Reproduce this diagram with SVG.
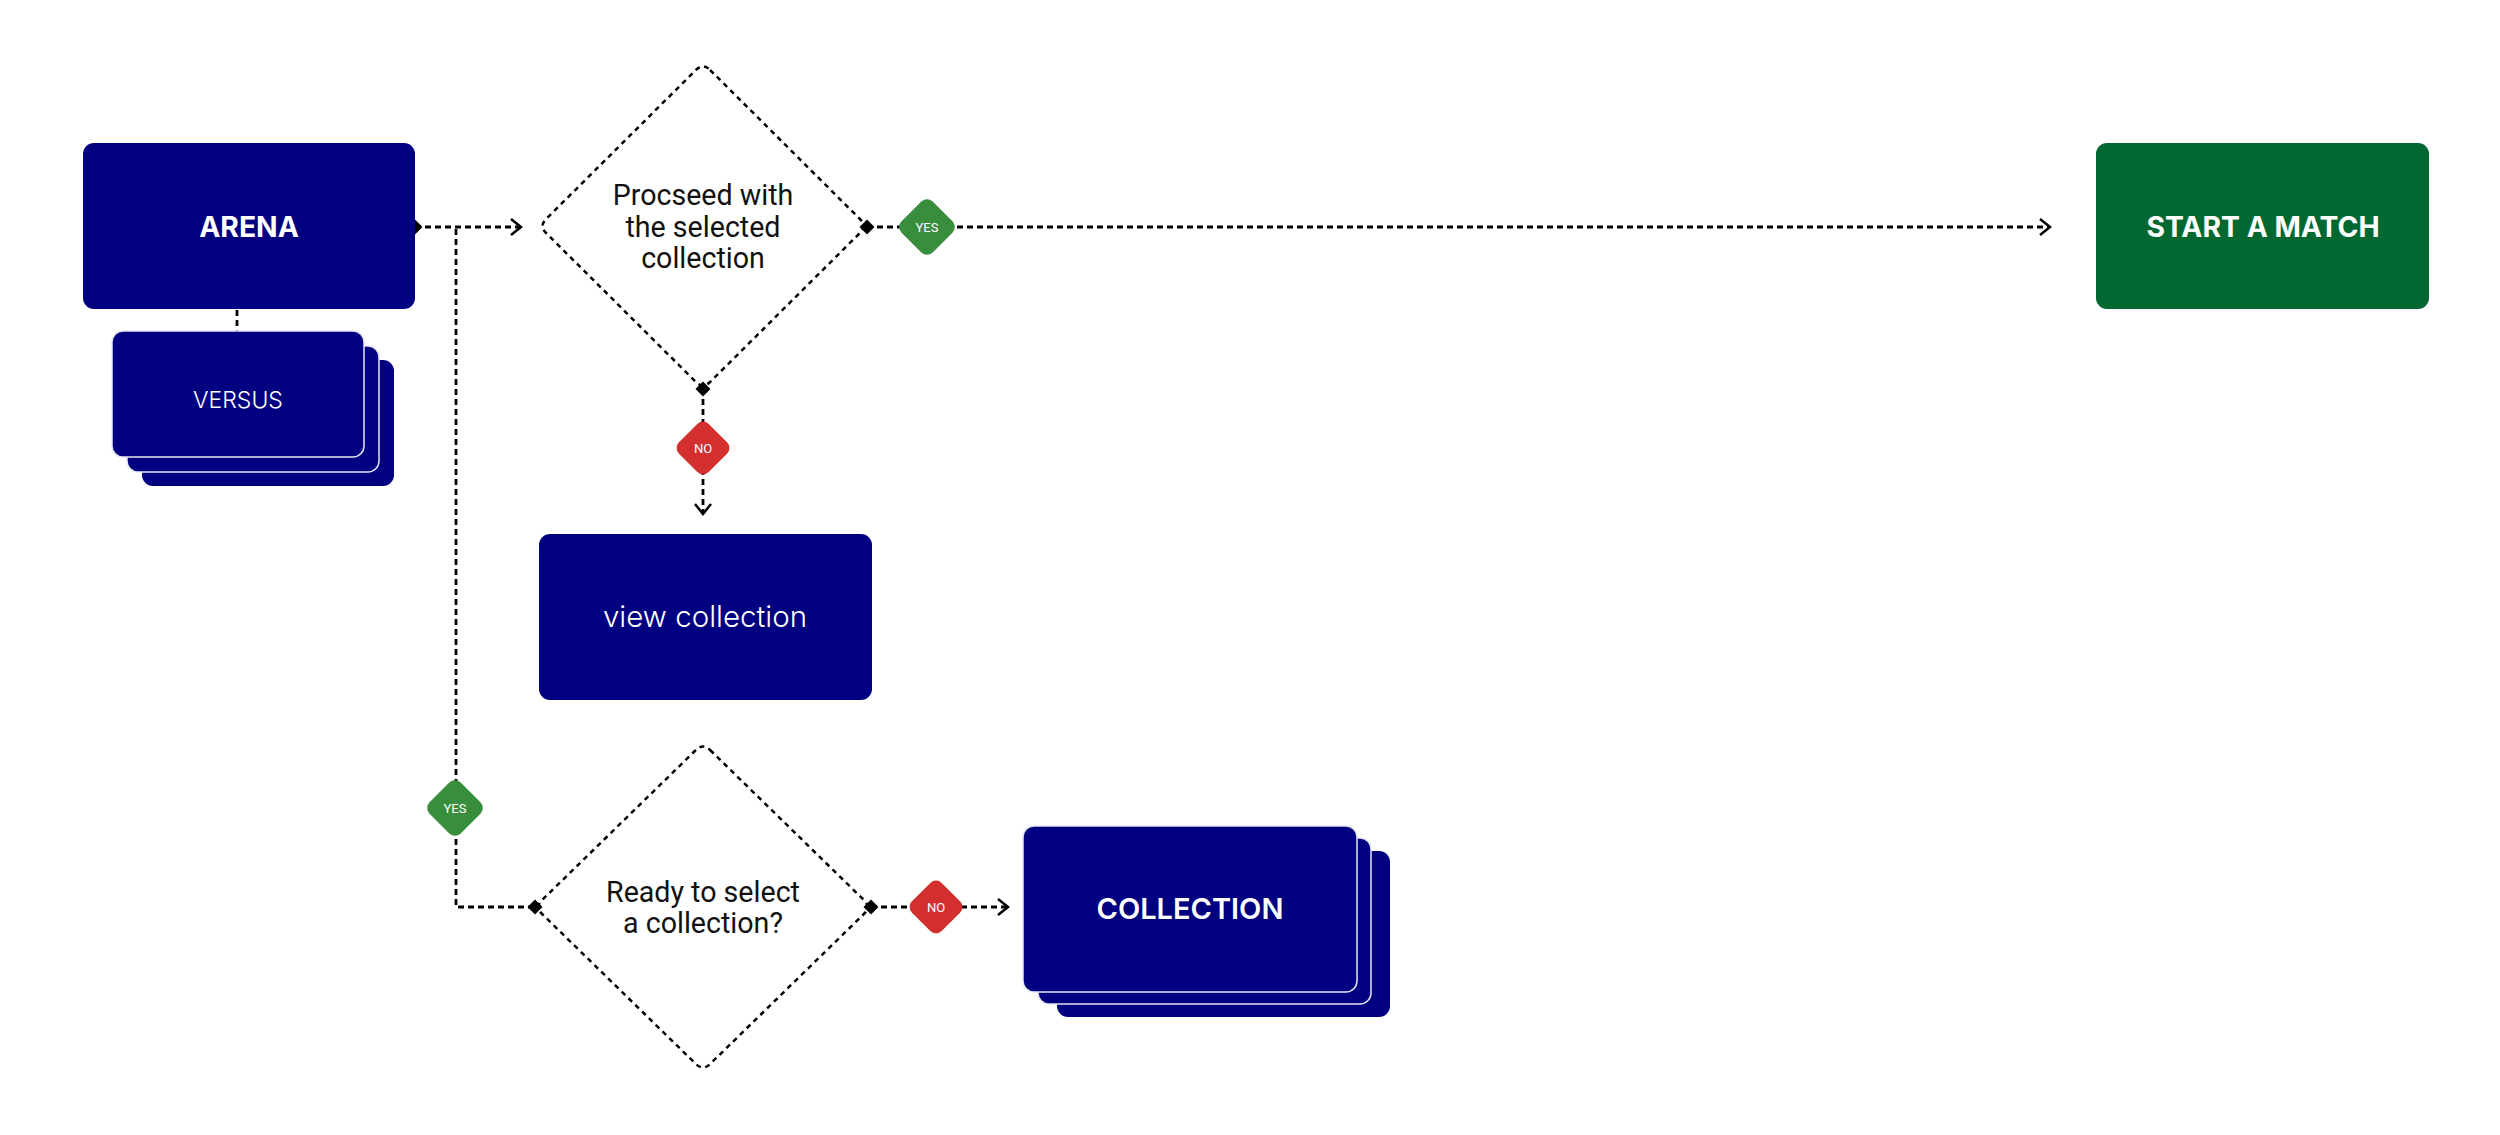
<svg xmlns="http://www.w3.org/2000/svg" width="2500" height="1135" viewBox="0 0 2500 1135">
<style>
.box{fill:#000080}
.stk{fill:#000080;stroke:#e6e6f0;stroke-width:1.5}
.go{fill:#006830}
.title{font-family:Inter,"Liberation Sans",sans-serif;font-weight:700;font-size:28.3px;fill:#fff;text-anchor:middle}
.light{font-family:Inter,"Liberation Sans",sans-serif;font-weight:300;fill:#fff;text-anchor:middle}
.dec{fill:none;stroke:#000;stroke-width:2.5;stroke-dasharray:5 4.5}
.dtext{font-family:Roboto,"Liberation Sans",sans-serif;font-size:28.6px;fill:#111;text-anchor:middle}
.con{fill:none;stroke:#000;stroke-width:2.8;stroke-dasharray:6 4}
.yes{fill:#388e3c}
.no{fill:#d32f2f}
.btext{font-family:Roboto,"Liberation Sans",sans-serif;font-size:13px;fill:#fff;text-anchor:middle}
</style>
<defs>
<marker id="dia" viewBox="-8 -8 16 16" markerWidth="16" markerHeight="16" refX="0" refY="0" markerUnits="userSpaceOnUse" orient="auto">
<path d="M-7.5 0 L0 -7.5 L7.5 0 L0 7.5 Z" fill="#000"/>
</marker>
<marker id="chev" viewBox="-14 -10 16 20" markerWidth="16" markerHeight="20" refX="0" refY="0" markerUnits="userSpaceOnUse" orient="auto">
<path d="M-10 -8 L0 0 L-10 8" fill="none" stroke="#000" stroke-width="2.5"/>
</marker>
</defs>

<g id="connectors">
<line class="con" x1="237" y1="310" x2="237" y2="331"/>
<line class="con" x1="415" y1="227" x2="521" y2="227" marker-start="url(#dia)" marker-end="url(#chev)"/>
<path class="con" d="M456 229 V907 H535" marker-end="url(#dia)"/>
<line class="con" x1="867" y1="227" x2="2050" y2="227" marker-start="url(#dia)" marker-end="url(#chev)"/>
<line class="con" x1="703" y1="389" x2="703" y2="514" marker-start="url(#dia)" marker-end="url(#chev)"/>
<line class="con" x1="871" y1="907" x2="1008" y2="907" marker-start="url(#dia)" marker-end="url(#chev)"/>
</g>

<g id="arena">
<rect class="box" x="83" y="143" width="332" height="166" rx="11"/>
<text class="title" x="249" y="237">ARENA</text>
</g>

<g id="versus">
<rect class="box" x="142" y="360" width="252" height="126" rx="11"/>
<rect class="stk" x="127" y="346" width="252" height="126" rx="11"/>
<rect class="stk" x="112" y="331" width="252" height="126" rx="11"/>
<text class="light" x="238" y="408" font-size="23">VERSUS</text>
</g>

<g id="decision1">
<path class="dec" d="M710.1 70 L859.9 219 Q867 226 859.9 233 L710.1 382 Q703 389 695.9 382 L546.1 233 Q539 226 546.1 219 L695.9 70 Q703 63 710.1 70 Z"/>
<text class="dtext" x="703" y="205">Procseed with</text>
<text class="dtext" x="703" y="237">the selected</text>
<text class="dtext" x="703" y="268">collection</text>
</g>

<g id="start-match">
<rect class="go" x="2096" y="143" width="333" height="166" rx="11"/>
<text class="title" x="2263" y="237">START A MATCH</text>
</g>

<g id="view-collection">
<rect class="box" x="539" y="534" width="333" height="166" rx="11"/>
<text class="light" x="705" y="627" font-size="29.5">view collection</text>
</g>

<g id="decision2">
<path class="dec" d="M710.1 750 L863.9 900 Q871 907 863.9 914 L710.1 1064 Q703 1071 695.9 1064 L542.1 914 Q535 907 542.1 900 L695.9 750 Q703 743 710.1 750 Z"/>
<text class="dtext" x="703" y="902">Ready to select</text>
<text class="dtext" x="703" y="933">a collection?</text>
</g>

<g id="collection">
<rect class="box" x="1057" y="851" width="333" height="166" rx="11"/>
<rect class="stk" x="1038" y="838" width="333" height="166" rx="11"/>
<rect class="stk" x="1023" y="826" width="334" height="166" rx="11"/>
<text x="1190" y="919" font-family="Inter,'Liberation Sans',sans-serif" font-weight="600" font-size="29" fill="#fff" text-anchor="middle">COLLECTION</text>
</g>

<g id="badge-yes-1">
<rect class="yes" x="-22" y="-22" width="44" height="44" rx="8" transform="translate(927 227) rotate(45)"/>
<text class="btext" x="927" y="232">YES</text>
</g>
<g id="badge-no-1">
<rect class="no" x="-21" y="-21" width="42" height="42" rx="8" transform="translate(703 448) rotate(45)"/>
<text class="btext" x="703" y="453">NO</text>
</g>
<g id="badge-yes-2">
<rect class="yes" x="-22" y="-22" width="44" height="44" rx="8" transform="translate(455 808) rotate(45)"/>
<text class="btext" x="455" y="813">YES</text>
</g>
<g id="badge-no-2">
<rect class="no" x="-21" y="-21" width="42" height="42" rx="8" transform="translate(936 907) rotate(45)"/>
<text class="btext" x="936" y="912">NO</text>
</g>
</svg>
